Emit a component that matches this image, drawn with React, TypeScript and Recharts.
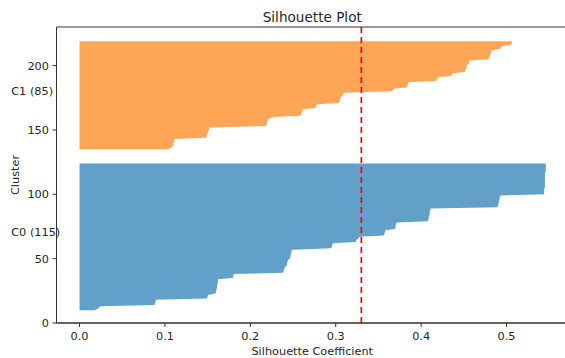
import React from 'react';
import { ComposedChart, Area, XAxis, YAxis, ReferenceLine, ReferenceDot, ReferenceArea } from 'recharts';

const clusterNames = ['C0', 'C1'];
const clusterStarts = [10, 135];

const c0Values = [
  0.018, 0.021, 0.023, 0.024,
  0.088, 0.088, 0.089, 0.089, 0.089,
  0.149, 0.150, 0.150, 0.151,
  0.159, 0.160, 0.160,
  0.160, 0.161, 0.161, 0.161, 0.161, 0.162, 0.162, 0.162, 0.162,
  0.179, 0.180, 0.180, 0.181,
  0.238, 0.239, 0.239, 0.240, 0.240,
  0.242, 0.243, 0.243, 0.243, 0.244, 0.244,
  0.246, 0.247, 0.247, 0.247, 0.248, 0.248, 0.248, 0.249,
  0.295, 0.295, 0.296, 0.296, 0.297,
  0.323, 0.324, 0.325, 0.327, 0.328,
  0.356, 0.357, 0.357, 0.358, 0.358,
  0.369, 0.370, 0.370, 0.370, 0.371, 0.371,
  0.408, 0.408, 0.409, 0.409, 0.409, 0.410, 0.410, 0.410, 0.410, 0.411, 0.411,
  0.489, 0.490, 0.490, 0.491, 0.491, 0.491, 0.492, 0.492, 0.492, 0.493,
  0.544, 0.544, 0.544, 0.544, 0.544, 0.545, 0.545, 0.545, 0.545, 0.545,
  0.545, 0.545, 0.545, 0.545, 0.545, 0.545, 0.545, 0.545, 0.546, 0.546,
  0.546, 0.546, 0.546, 0.546, 0.546,
];

const c1Values = [
  0.104, 0.106,
  0.109, 0.110, 0.110, 0.110, 0.111, 0.111, 0.111,
  0.148, 0.149, 0.149, 0.150, 0.150, 0.151, 0.151,
  0.152, 0.152,
  0.218, 0.219, 0.219, 0.220, 0.220, 0.221, 0.222,
  0.228,
  0.259, 0.260, 0.260, 0.260, 0.261, 0.261,
  0.276, 0.277, 0.277, 0.278,
  0.304, 0.304, 0.305, 0.305, 0.306, 0.306,
  0.309, 0.309, 0.310,
  0.366, 0.367, 0.368,
  0.383, 0.384, 0.384, 0.385, 0.385,
  0.417, 0.418, 0.419, 0.420,
  0.435, 0.436, 0.437,
  0.451, 0.452, 0.452, 0.453, 0.453, 0.453,
  0.455, 0.456, 0.456, 0.457,
  0.479, 0.480, 0.480, 0.481, 0.481, 0.482, 0.482, 0.483,
  0.492, 0.493, 0.494,
  0.505, 0.506, 0.506, 0.507,
];

const meanSilhouette = 0.33;
const xTicks = [0, 0.1, 0.2, 0.3, 0.4, 0.5];
const yTicks = [0, 50, 100, 150, 200];
const xDomain: [number, number] = [-0.027, 0.572];
const yDomain: [number, number] = [0, 230];
const clusterLabelX = -0.08;

const clusterValues = [c0Values, c1Values];
const keys = ['c0', 'c1'];

const rows = [
  ...c0Values.map((v, i) => ({ y: clusterStarts[0] + i, c0: v, c1: null })),
  ...c1Values.map((v, i) => ({ y: clusterStarts[1] + i, c0: null, c1: v })),
];

const FONT = '"DejaVu Sans", sans-serif';
const TEXT = '#262626';
const AXIS = '#333333';

const ClusterLabel = (props: any) => {
  const { viewBox, text } = props;
  return (
    <text x={viewBox.x} y={viewBox.y} textAnchor="start"
      fontFamily={FONT} fontSize={11.3} fill={TEXT}>{text}</text>
  );
};

const YLabel = (props: any) => {
  const { viewBox } = props;
  const x = viewBox.x + 15;
  const y = viewBox.y + viewBox.height / 2;
  return (
    <text x={x} y={y} textAnchor="middle" dominantBaseline="central"
      transform={`rotate(-90, ${x}, ${y})`} fontFamily={FONT} fontSize={11.3} fill={TEXT}>Cluster</text>
  );
};

const XLabel = (props: any) => {
  const { viewBox } = props;
  return (
    <text x={viewBox.x + viewBox.width / 2} y={viewBox.y + 28} textAnchor="middle" dominantBaseline="central"
      fontFamily={FONT} fontSize={11.3} fill={TEXT}>Silhouette Coefficient</text>
  );
};

const colors = ['#1f77b4', '#ff7f0e'];

export default function App() {
  return (
    <div style={{ position: 'absolute', left: 0, top: 0, width: 565, height: 358, overflow: 'hidden', background: '#fff' }}>
      <div style={{ position: 'absolute', left: 56.5, width: 511.5, top: 9, lineHeight: '16px', textAlign: 'center',
        fontFamily: FONT, fontSize: 13.6, color: TEXT }}>Silhouette Plot</div>
      <ComposedChart width={575} height={358} data={rows} layout="vertical"
        margin={{ top: 27, right: 7, bottom: 0, left: 0 }}>
        <XAxis type="number" domain={xDomain} ticks={xTicks} allowDataOverflow
          tickFormatter={(v: number) => v.toFixed(1)} height={35} stroke={AXIS}
          tickSize={4} tickMargin={4.5}
          tick={{ fill: TEXT, fontSize: 11.3, fontFamily: FONT }}
          label={<XLabel />} />
        <YAxis type="number" dataKey="y" domain={yDomain} ticks={yTicks} allowDataOverflow reversed
          width={56.5} stroke={AXIS} tickSize={4} tickMargin={3.5}
          tick={{ fill: TEXT, fontSize: 11.3, fontFamily: FONT }}
          label={<YLabel />} />
        {keys.map((k, i) => (
          <Area key={k} dataKey={k} type="linear" baseValue={0} fill={colors[i]} fillOpacity={0.7}
            stroke="none" isAnimationActive={false} connectNulls={false} dot={false} activeDot={false} />
        ))}
        <ReferenceArea x1={xDomain[0]} x2={xDomain[1]} y1={yDomain[0]} y2={yDomain[1]}
          fill="none" stroke={AXIS} strokeWidth={1} ifOverflow="visible" />
        <ReferenceLine x={meanSilhouette} stroke="#ff0000" strokeWidth={1.7} strokeDasharray="6 4" />
        {clusterNames.map((name, i) => (
          <ReferenceDot key={name} x={clusterLabelX} y={clusterStarts[i] + clusterValues[i].length / 2}
            r={0} fill="none" stroke="none" ifOverflow="visible"
            label={<ClusterLabel text={`${name} (${clusterValues[i].length})`} />} />
        ))}
      </ComposedChart>
    </div>
  );
}
